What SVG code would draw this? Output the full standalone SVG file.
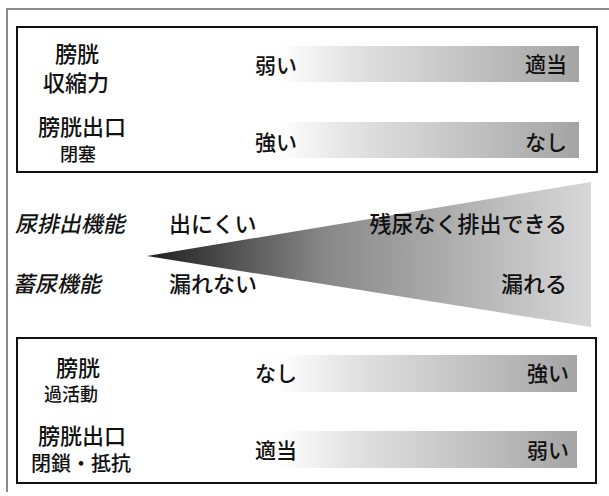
<svg xmlns="http://www.w3.org/2000/svg" width="609" height="496" viewBox="0 0 609 496">
<style>
text{font-family:"Noto Sans CJK JP","Noto Sans CJK SC",sans-serif;fill:#111;font-size:21px;font-weight:500}
.box{fill:none;stroke:#111;stroke-width:2}
.frame{fill:none;stroke:#666;stroke-width:1.5}
.bar{fill:url(#barGrad)}
.r{text-anchor:end}
.c{text-anchor:middle}
.lb{font-size:22px}
.s{font-size:18px}
.m{font-size:20px}
.it{font-size:22px}
</style>
<defs>
<linearGradient id="barGrad" x1="0" y1="0" x2="1" y2="0">
<stop offset="0" stop-color="#ffffff"/>
<stop offset="0.25" stop-color="#e2e2e2"/>
<stop offset="1" stop-color="#a4a4a4"/>
</linearGradient>
<linearGradient id="triGrad" gradientUnits="userSpaceOnUse" x1="147" y1="0" x2="591" y2="0">
<stop offset="0" stop-color="#1e1e1e"/>
<stop offset="0.4" stop-color="#888888"/>
<stop offset="1" stop-color="#d8d8d8"/>
</linearGradient>
</defs>
<g id="frame">
<polyline class="frame" points="7,492 7,9 609,9"/>
</g>
<g id="top-panel">
<rect class="box" x="17" y="27" width="580" height="145"/>
<g id="bladder-contractility">
<text class="c lb" x="77" y="62">膀胱</text>
<text class="c lb" x="76" y="91">収縮力</text>
<rect class="bar" x="278" y="46" width="301" height="36"/>
<text x="255" y="72.5">弱い</text>
<text class="r" x="567" y="72">適当</text>
</g>
<g id="outlet-obstruction">
<text class="c lb" x="82" y="135">膀胱出口</text>
<text class="c s" x="78" y="161">閉塞</text>
<rect class="bar" x="278" y="122" width="301" height="36"/>
<text x="255" y="149.5">強い</text>
<text class="r" x="567" y="149.5">なし</text>
</g>
</g>
<g id="middle-wedge">
<polygon points="147,256 591,182 591,327" fill="url(#triGrad)"/>
<g transform="translate(15,232) skewX(-12)"><text class="it" x="0" y="0">尿排出機能</text></g>
<g transform="translate(13,292) skewX(-12)"><text class="it" x="0" y="0">蓄尿機能</text></g>
<text class="it" x="169" y="232">出にくい</text>
<text class="it r" x="567" y="232">残尿なく排出できる</text>
<text class="it" x="169" y="292">漏れない</text>
<text class="it r" x="567" y="292">漏れる</text>
</g>
<g id="bottom-panel">
<rect class="box" x="17" y="338" width="579" height="145"/>
<g id="bladder-overactivity">
<text class="c lb" x="78" y="376">膀胱</text>
<text class="c s" x="71" y="401">過活動</text>
<rect class="bar" x="278" y="355" width="299" height="37"/>
<text x="255" y="380.5">なし</text>
<text class="r" x="569" y="380.5">強い</text>
</g>
<g id="outlet-closure">
<text class="c lb" x="82" y="443.5">膀胱出口</text>
<text class="c m" x="81" y="471">閉鎖・抵抗</text>
<rect class="bar" x="278" y="431" width="299" height="37"/>
<text x="255" y="457.5">適当</text>
<text class="r" x="569" y="457.5">弱い</text>
</g>
</g>
<g id="connectors"/>
</svg>
